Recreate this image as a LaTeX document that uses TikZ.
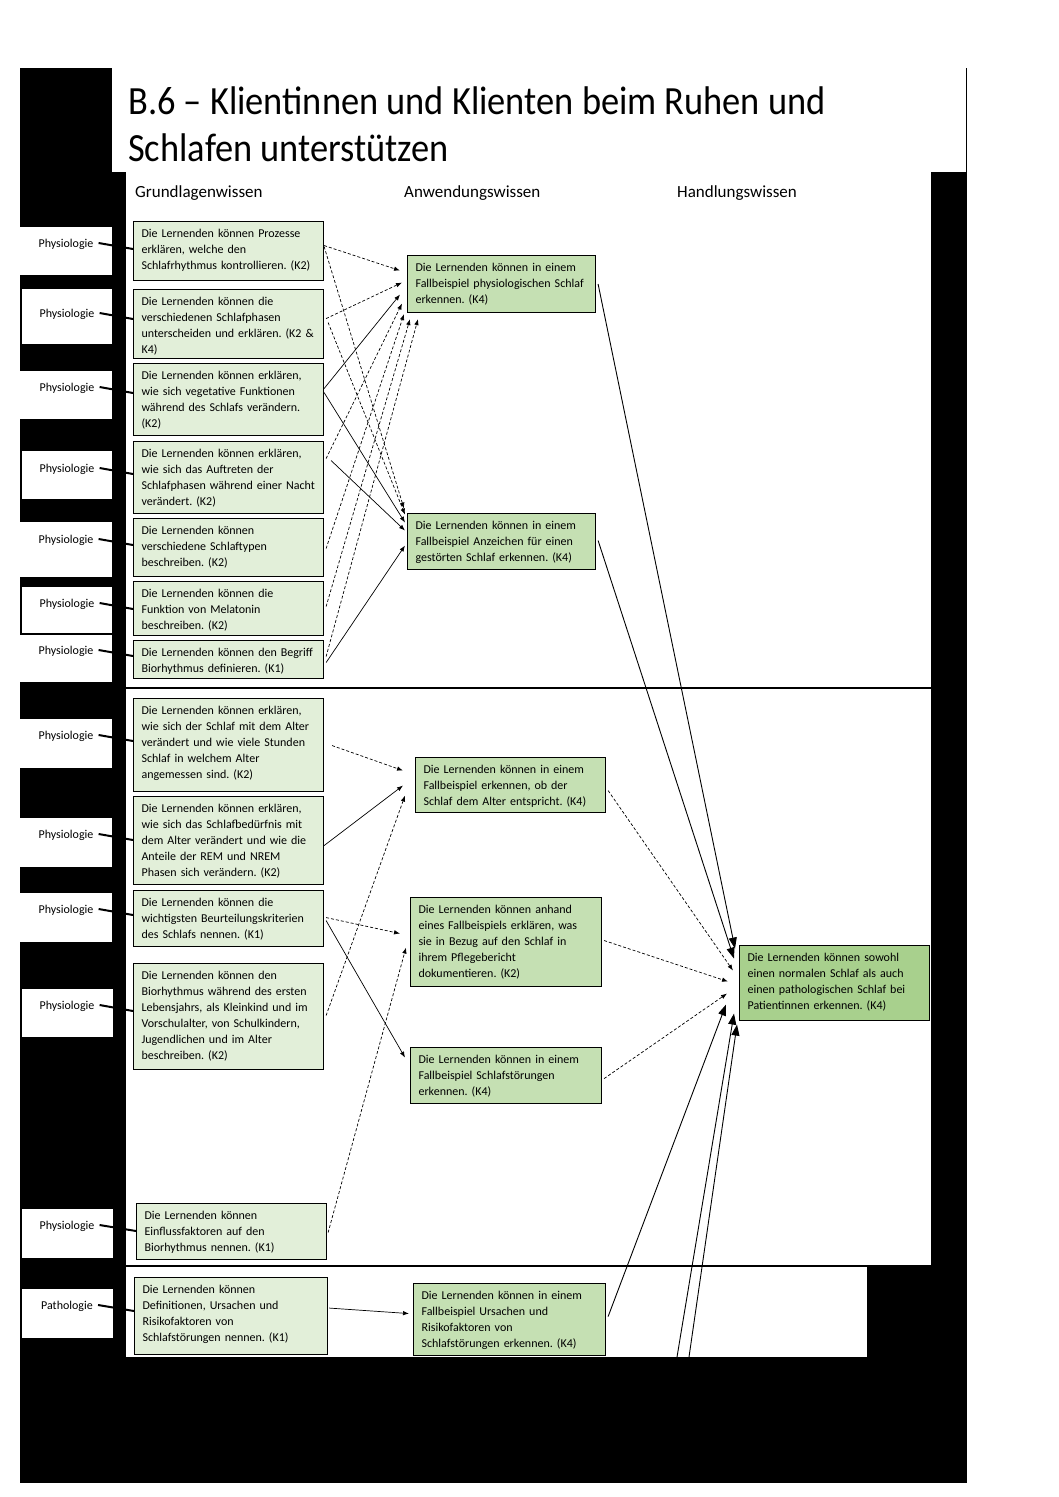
\documentclass[tikz,border=0pt]{standalone}
\usepackage{fontspec}
\usepackage{graphicx}
\setmainfont{Carlito}
\usetikzlibrary{arrows.meta,calc}
\definecolor{gA}{HTML}{E2EFD9}
\definecolor{gB}{HTML}{C5E0B3}
\definecolor{gC}{HTML}{A8D08D}
\frenchspacing
\begin{document}
\begin{tikzpicture}[x=1pt,y=-1pt,
 gbase/.style={draw=black, line width=1.1pt, align=left, inner xsep=8pt, inner ysep=0pt, anchor=north west, font=\fontsize{12}{16}\selectfont\frenchspacing, text height=16pt},
 lbox/.style={gbase, fill=gA},
 mbox/.style={gbase, fill=gB},
 fbox/.style={gbase, fill=gC},
 lab/.style={font=\fontsize{12}{14}\selectfont, inner sep=0pt},
 callout/.style={line width=2pt},
 thinarrow/.style={line width=0.7pt, -{Latex[length=6pt,width=4.5pt]}},
 dasharrow/.style={thinarrow, dash pattern=on 3pt off 2pt},
 bigarrow/.style={line width=0.9pt, -{Triangle[length=11pt,width=8pt]}},
 hdr/.style={font=\fontsize{17}{20}\selectfont, anchor=base west, inner sep=0pt},
 ttl/.style={font=\fontsize{40}{47}\selectfont, anchor=base west, inner sep=0pt},
]
\useasboundingbox (0,0) rectangle (1058,1497);
% background
\fill[white] (0,0) rectangle (1058,1497);
\fill[black] (20,68) rectangle (967,1483);
\fill[white] (112,68) rectangle (966,172);
\fill[white] (126,172) rectangle (931,1266);
\fill[white] (126,1266) rectangle (867,1357);
\draw[line width=1.8pt] (126,688) -- (931,688);
\draw[line width=2pt] (126,1266) -- (931,1266);

% title and headers
\node[ttl] (t1) at (128,114) {\scalebox{0.91}[1]{B.6 – Klientinnen und Klienten beim Ruhen und}};
\node[ttl] (t2) at (128,161) {\scalebox{0.91}[1]{Schlafen unterstützen}};
\node[hdr] (h1) at (135,197) {Grundlagenwissen};
\node[hdr] (h2) at (404,197) {Anwendungswissen};
\node[hdr] (h3) at (677,197) {Handlungswissen};

% label boxes
\fill[white] (20,227) rectangle (112,275);
\fill[white] (22,289) rectangle (112,344);
\fill[white] (20,371) rectangle (112,419);
\fill[white] (22,451) rectangle (112,499);
\fill[white] (20,522) rectangle (112,577);
\fill[white] (22,587) rectangle (112,633);
\fill[white] (20,635) rectangle (112,682);
\fill[white] (20,719) rectangle (112,768);
\fill[white] (20,818) rectangle (112,867);
\fill[white] (20,893) rectangle (112,942);
\fill[white] (22,989) rectangle (113,1037);
\fill[white] (22,1209) rectangle (113,1258);
\fill[white] (22,1289) rectangle (113,1338);
\node[lab] (p1) at (66,244) {Physiologie};
\node[lab] (p2) at (67,314) {Physiologie};
\node[lab] (p3) at (67,388) {Physiologie};
\node[lab] (p4) at (67,469) {Physiologie};
\node[lab] (p5) at (66,540) {Physiologie};
\node[lab] (p6) at (67,604) {Physiologie};
\node[lab] (p7) at (66,651) {Physiologie};
\node[lab] (p8) at (66,736) {Physiologie};
\node[lab] (p9) at (66,835) {Physiologie};
\node[lab] (p10) at (66,910) {Physiologie};
\node[lab] (p11) at (67,1006) {Physiologie};
\node[lab] (p12) at (67,1226) {Physiologie};
\node[lab] (p13) at (67,1306) {Pathologie};

% Grundlagenwissen boxes
\node[lbox, text width=174pt, text depth=43pt] (g1) at (133,221) {Die Lernenden können Prozesse\\erklären, welche den\\Schlafrhythmus kontrollieren. (K2)};
\node[lbox, text width=174pt, text depth=53pt] (g2) at (133,289) {Die Lernenden können die\\verschiedenen Schlafphasen\\\mbox{unterscheiden und erklären. (K2 \&}\\K4)};
\node[lbox, text width=174pt, text depth=56pt] (g3) at (133,363) {Die Lernenden können erklären,\\wie sich vegetative Funktionen\\während des Schlafs verändern.\\(K2)};
\node[lbox, text width=174pt, text depth=56pt] (g4) at (133,441) {Die Lernenden können erklären,\\wie sich das Auftreten der\\\mbox{Schlafphasen während einer Nacht}\\verändert. (K2)};
\node[lbox, text width=174pt, text depth=42pt] (g5) at (133,518) {Die Lernenden können\\verschiedene Schlaftypen\\beschreiben. (K2)};
\node[lbox, text width=174pt, text depth=38pt] (g6) at (133,581) {Die Lernenden können die\\Funktion von Melatonin\\beschreiben. (K2)};
\node[lbox, text width=174pt, text depth=22pt] (g7) at (133,640) {\mbox{Die Lernenden können den Begriff}\\Biorhythmus definieren. (K1)};
\node[lbox, text width=174pt, text depth=77pt] (g8) at (133,698) {Die Lernenden können erklären,\\wie sich der Schlaf mit dem Alter\\verändert und wie viele Stunden\\Schlaf in welchem Alter\\angemessen sind. (K2)};
\node[lbox, text width=174pt, text depth=72pt] (g9) at (133,796) {Die Lernenden können erklären,\\wie sich das Schlafbedürfnis mit\\dem Alter verändert und wie die\\Anteile der REM und NREM\\Phasen sich verändern. (K2)};
\node[lbox, text width=174pt, text depth=40pt] (g10) at (133,890) {Die Lernenden können die\\\mbox{wichtigsten Beurteilungskriterien}\\des Schlafs nennen. (K1)};
\node[lbox, text width=174pt, text depth=90pt] (g11) at (133,963) {Die Lernenden können den\\Biorhythmus während des ersten\\\mbox{Lebensjahrs, als Kleinkind und im}\\Vorschulalter, von Schulkindern,\\Jugendlichen und im Alter\\beschreiben. (K2)};
\node[lbox, text width=174pt, text depth=40pt] (g12) at (136,1203) {Die Lernenden können\\Einflussfaktoren auf den\\Biorhythmus nennen. (K1)};
\node[lbox, text width=177pt, text depth=61pt] (g13) at (134,1277) {Die Lernenden können\\Definitionen, Ursachen und\\Risikofaktoren von\\Schlafstörungen nennen. (K1)};

% callout lines
\foreach \p/\g in {p1/g1,p2/g2,p3/g3,p4/g4,p5/g5,p6/g6,p7/g7,p8/g8,p9/g9,p10/g10,p11/g11,p12/g12,p13/g13}
  \draw[callout] ($(\p.east)+(5,-1)$) -- ($(\p.east -| \g.west)+(0,5)$);

% Anwendungswissen boxes
\node[mbox, text width=172pt, text depth=41pt] (m1) at (407,255) {Die Lernenden können in einem\\\mbox{Fallbeispiel physiologischen Schlaf}\\erkennen. (K4)};
\node[mbox, text width=172pt, text depth=40pt] (m2) at (407,513) {Die Lernenden können in einem\\Fallbeispiel Anzeichen für einen\\gestörten Schlaf erkennen. (K4)};
\node[mbox, text width=174pt, text depth=39pt] (m3) at (415,757) {Die Lernenden können in einem\\Fallbeispiel erkennen, ob der\\Schlaf dem Alter entspricht. (K4)};
\node[mbox, text width=175pt, text depth=73pt] (m4) at (410,897) {Die Lernenden können anhand\\eines Fallbeispiels erklären, was\\sie in Bezug auf den Schlaf in\\ihrem Pflegebericht\\dokumentieren. (K2)};
\node[mbox, text width=175pt, text depth=40pt] (m5) at (410,1047) {Die Lernenden können in einem\\Fallbeispiel Schlafstörungen\\erkennen. (K4)};
\node[mbox, text width=176pt, text depth=56pt] (m6) at (413,1283) {Die Lernenden können in einem\\Fallbeispiel Ursachen und\\Risikofaktoren von\\Schlafstörungen erkennen. (K4)};

% Handlungswissen box
\node[fbox, text width=174pt, text depth=59pt] (f) at (739,945) {Die Lernenden können sowohl\\einen normalen Schlaf als auch\\einen pathologischen Schlaf bei\\Patientinnen erkennen. (K4)};

% top section arrows
\draw[dasharrow] ($(g1.east)+(0,-5.5)$) -- ($(m1.west)+(-7,-13.5)$);
\draw[dasharrow] ($(g1.east)+(0,-4.5)$) -- ($(m2.west)+(-3,-33)$);
\draw[dasharrow] ($(g2.east)+(2,-5.5)$) -- ($(m1.west)+(-5,-1.5)$);
\draw[dasharrow] ($(g2.east)+(4,-1.5)$) -- ($(m2.west)+(-2,-27)$);
\draw[thinarrow] ($(g3.east)+(0,-11)$) -- ($(m1.west)+(-7,10.5)$);
\draw[thinarrow] ($(g3.east)+(0,-7)$) -- ($(m2.west)+(-2,-19)$);
\draw[dasharrow] ($(g4.east)+(2,-19)$) -- ($(m1.west)+(-5,19.5)$);
\draw[thinarrow] ($(g4.east)+(7,-17)$) -- ($(m2.west)+(-2,-11)$);
\draw[dasharrow] ($(g5.east)+(2,1)$) -- ($(m1.south west)+(-3,1)$);
\draw[dasharrow] ($(g6.east)+(2,-2)$) -- ($(m1.south west)+(3,6)$);
\draw[dasharrow] ($(g7.east)+(2,-3)$) -- ($(m1.south west)+(11,6)$);
\draw[thinarrow] ($(g7.east)+(2,3)$) -- ($(m2.west)+(-2,4)$);

% middle section arrows
\draw[dasharrow] ($(g8.east)+(8,0.5)$) -- ($(m3.west)+(-12,-14.5)$);
\draw[thinarrow] ($(g9.east)+(0,5)$) -- ($(m3.west)+(-12,0.5)$);
\draw[dasharrow] ($(g11.east)+(2,-1)$) -- ($(m3.west)+(-10,10.5)$);
\draw[dasharrow] ($(g10.east)+(2,-1)$) -- ($(m4.west)+(-10,-8.5)$);
\draw[thinarrow] ($(g10.east)+(2,2)$) -- ($(m5.west)+(-5,-18)$);
\draw[dasharrow] ($(g12.east)+(1,1)$) -- ($(m4.west)+(-4,5.5)$);
\draw[thinarrow] ($(g13.east)+(1,-8)$) -- ($(m6.west)+(-4,-6)$);

% right side arrows
\coordinate (c1) at (677,1357);
\coordinate (c2) at (689,1357);
\draw[bigarrow] ($(m1.east)+(2,0)$) -- ($(f.west)+(-4,-34.5)$);
\draw[bigarrow] ($(m2.east)+(2,-1)$) -- ($(f.west)+(-5,-24.5)$);
\draw[dasharrow] ($(m3.east)+(2,5.5)$) -- ($(f.west)+(-6,-12.5)$);
\draw[dasharrow] ($(m4.east)+(2,-1.5)$) -- ($(f.west)+(-11,-1.5)$);
\draw[dasharrow] ($(m5.east)+(2,3)$) -- ($(f.west)+(-12,10.5)$);
\draw[bigarrow] ($(m6.east)+(2,-3)$) -- ($(f.west)+(-13,21.5)$);
\draw[bigarrow] (c1) -- ($(f.west)+(-5,30.5)$);
\draw[bigarrow] (c2) -- ($(f.west)+(-2,41.5)$);
\end{tikzpicture}
\end{document}
